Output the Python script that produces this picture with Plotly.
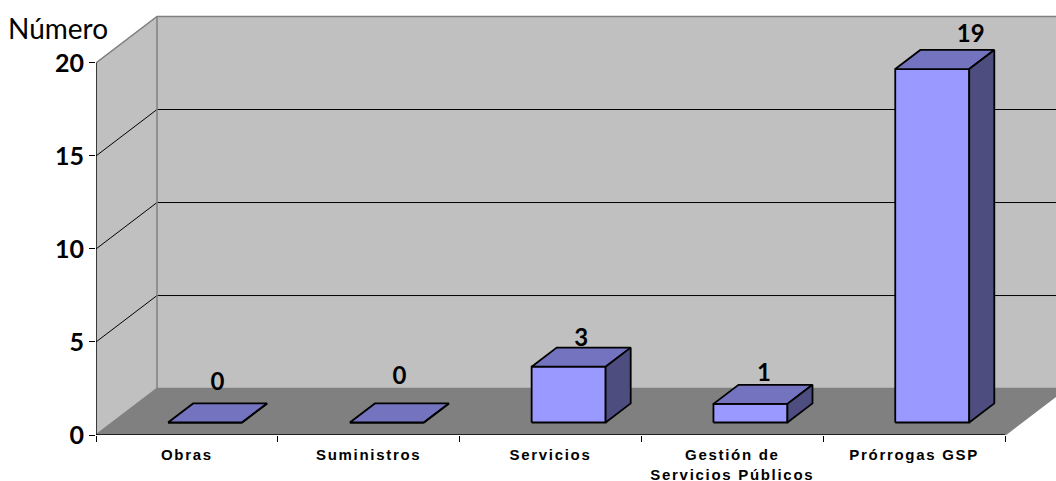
import plotly.graph_objects as go

categories = ["Obras", "Suministros", "Servicios", "Gestión de<br>Servicios Públicos", "Prórrogas GSP"]
values = [0, 0, 3, 1, 19]
y_ticks = [0, 5, 10, 15, 20]
axis_title = "Número"

# Pixel geometry of the oblique projection
W, H = 1056, 481
LEFT, BOTTOM = 96, 45.5
CAT_PX = 181.8
UNIT_PX = 18.625
DEPTH_X_PX = 61
DEPTH_Y_PX = 46.5
N = len(categories)
DX = DEPTH_X_PX / CAT_PX
DY = DEPTH_Y_PX / UNIT_PX
YMAX = max(y_ticks)

BAR_X0, BAR_W = 0.306, 0.407
BAR_D0, BAR_D1 = 0.269, 0.68

WALL, FLOOR, EDGE = "#C0C0C0", "#808080", "#808080"
FRONT, TOP, SIDE = "#9999FF", "#7373BF", "#4D4D80"


def proj(x, y, d):
    return x + d * DX, y + d * DY


fig = go.Figure()


def poly(points, fill=None, line="#000000", width=1):
    xs = [p[0] for p in points]
    ys = [p[1] for p in points]
    fig.add_trace(go.Scatter(
        x=xs, y=ys, mode="lines",
        fill="toself" if fill else "none", fillcolor=fill,
        line=dict(color=line, width=width),
        hoverinfo="skip", showlegend=False, cliponaxis=False,
    ))


# Walls and floor
poly([proj(0, 0, 0), proj(0, YMAX, 0), proj(0, YMAX, 1), proj(0, 0, 1), proj(0, 0, 0)], WALL, WALL)
poly([proj(0, 0, 1), proj(0, YMAX, 1), proj(N, YMAX, 1), proj(N, 0, 1), proj(0, 0, 1)], WALL, WALL)
poly([proj(0, 0, 0), proj(N, 0, 0), proj(N, 0, 1), proj(0, 0, 1), proj(0, 0, 0)], FLOOR, EDGE, 1.5)

# Gridlines
for t in y_ticks[1:-1]:
    poly([proj(0, t, 0), proj(0, t, 1), proj(N, t, 1)], None, "#000000", 1)

# Wall edges
poly([proj(0, YMAX, 0), proj(0, YMAX, 1), proj(N, YMAX, 1)], None, EDGE, 1.5)
poly([proj(0, 0, 1), proj(0, YMAX, 1)], None, EDGE, 1.5)

# Axis lines
poly([(0, 0), (0, YMAX)], None, "#000000", 1.4)
poly([(0, 0), (N, 0)], None, "#000000", 1.4)

# Bars
for i, v in enumerate(values):
    x0, x1 = i + BAR_X0, i + BAR_X0 + BAR_W
    poly([proj(x0, 0, BAR_D0), proj(x0, v, BAR_D0), proj(x1, v, BAR_D0), proj(x1, 0, BAR_D0), proj(x0, 0, BAR_D0)],
         FRONT, "#000000", 1.8)
    poly([proj(x0, v, BAR_D0), proj(x0, v, BAR_D1), proj(x1, v, BAR_D1), proj(x1, v, BAR_D0), proj(x0, v, BAR_D0)],
         TOP, "#000000", 1.8)
    poly([proj(x1, 0, BAR_D0), proj(x1, v, BAR_D0), proj(x1, v, BAR_D1), proj(x1, 0, BAR_D1), proj(x1, 0, BAR_D0)],
         SIDE, "#000000", 1.8)

# Data labels, nudged by hand in pixels from the centre of each top face
label_dx_px = [0, 0, 0, 1, 26]
label_dy_px = [29, 35, 17, 19, 24]
lx, ly = [], []
for i, v in enumerate(values):
    cx, cy = proj(i + BAR_X0 + BAR_W / 2, v, (BAR_D0 + BAR_D1) / 2)
    lx.append(cx + label_dx_px[i] / CAT_PX)
    ly.append(cy + label_dy_px[i] / UNIT_PX)
fig.add_trace(go.Scatter(
    x=lx, y=ly, mode="text", text=[str(v) for v in values], textposition="middle center",
    textfont=dict(family="Lato", size=24, color="#000000", weight=700),
    hoverinfo="skip", showlegend=False, cliponaxis=False,
))

fig.add_annotation(
    text=axis_title, xref="paper", yref="paper",
    x=58 / (W - LEFT) - LEFT / (W - LEFT), y=1 - 28 / (H - BOTTOM),
    xanchor="center", yanchor="middle", showarrow=False,
    font=dict(family="Lato", size=28, color="#000000"),
)

fig.update_layout(
    width=W, height=H, autosize=False,
    margin=dict(l=LEFT, r=0, t=0, b=BOTTOM, pad=0),
    paper_bgcolor="#FFFFFF", plot_bgcolor="#FFFFFF",
    xaxis=dict(
        range=[0, (W - LEFT) / CAT_PX], automargin=False,
        tickmode="array", tickvals=[i + 0.5 for i in range(N)], ticktext=categories,
        ticks="", showline=False, showgrid=False, zeroline=False,
        ticklabelstandoff=9,
        tickfont=dict(family="Liberation Sans", size=15, color="#000000", weight=700),
        minor=dict(tickmode="array", tickvals=list(range(N + 1)), ticks="outside", ticklen=6,
                   tickcolor="#000000", tickwidth=1, showgrid=False),
    ),
    yaxis=dict(
        range=[0, (H - BOTTOM) / UNIT_PX], automargin=False,
        tickmode="array", tickvals=y_ticks, ticktext=[str(t) for t in y_ticks],
        ticks="outside", ticklen=6, tickcolor="#000000", tickwidth=1,
        showline=False, showgrid=False, zeroline=False,
        tickfont=dict(family="Lato", size=25, color="#000000", weight=700),
    ),
)

fig.write_html(
    "out.html",
    config={"displayModeBar": False},
    post_script=(
        "document.body.style.margin='0';document.documentElement.style.overflow='hidden';"
        "document.querySelectorAll('.xtick text').forEach(function(t){t.style.letterSpacing='1.7px';});"
    ),
)
